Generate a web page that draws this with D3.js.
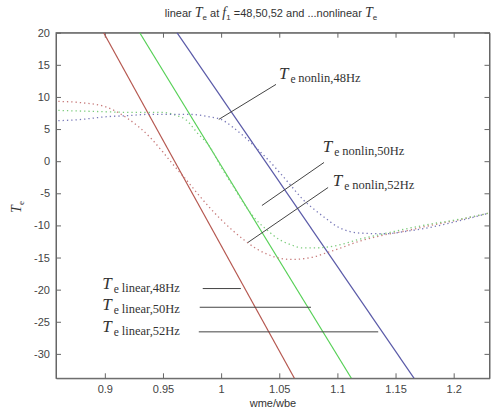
<!DOCTYPE html>
<html><head><meta charset="utf-8">
<script src="https://cdn.jsdelivr.net/npm/d3@7"></script>
<style>
body{margin:0;background:#fff;}
svg{display:block;}
.tick text{font-family:Arial,"Liberation Sans",sans-serif;font-size:11px;fill:#444;}
</style></head>
<body><svg id="c" width="491" height="412"></svg>
<script>
// ---- data ----
const xTicks = [0.9, 0.95, 1, 1.05, 1.1, 1.15, 1.2];
const yTicks = [-30, -25, -20, -15, -10, -5, 0, 5, 10, 15, 20];
const xTickLabels = ["0.9", "0.95", "1", "1.05", "1.1", "1.15", "1.2"];
const yTickLabels = ["-30", "-25", "-20", "-15", "-10", "-5", "0", "5", "10", "15", "20"];

// linear torque lines (endpoints)
const linY = [20, -33.8];
const lin48X = [0.899, 1.063];
const lin50X = [0.930, 1.112];
const lin52X = [0.962, 1.166];

// nonlinear torque curves
const nonlinX = [0.86, 0.88, 0.90, 0.92, 0.94, 0.95, 0.96, 0.97, 0.98, 0.99, 1.00, 1.01, 1.02, 1.03, 1.04, 1.05, 1.06, 1.07, 1.08, 1.09, 1.10, 1.12, 1.14, 1.16, 1.18, 1.20, 1.23];
const nonlin48 = [9.3, 9.1, 8.5, 6.6, 3.5, 1.4, -0.8, -2.9, -5.1, -7.2, -9.1, -10.8, -12.3, -13.6, -14.5, -15.1, -15.3, -15.2, -14.9, -14.3, -13.7, -12.4, -11.5, -10.8, -10.0, -9.3, -8.1];
const nonlin50 = [7.9, 7.8, 7.7, 7.6, 7.6, 7.6, 7.2, 6.4, 4.3, 2.3, -0.9, -3.8, -6.7, -9.1, -10.8, -12.2, -13.0, -13.5, -13.5, -13.4, -13.1, -12.1, -11.3, -10.5, -9.8, -9.2, -8.1];
const nonlin52 = [6.3, 6.5, 6.9, 7.1, 7.3, 7.3, 7.3, 7.3, 7.2, 6.9, 6.5, 5.3, 3.8, 2.1, 0.3, -1.7, -3.8, -5.9, -7.5, -8.9, -10.2, -11.2, -11.3, -10.9, -10.3, -9.5, -8.1];

// ---- chart ----
const svg = d3.select("#c");
const L = 56, R = 489.5, T = 32.7, B = 378.3;
const x = d3.scaleLinear().domain([0.858, 1.2308]).range([L, R]);
const y = d3.scaleLinear().domain([-33.8, 20]).range([B, T]);

svg.append("defs").append("clipPath").attr("id", "clip")
  .append("rect").attr("x", L).attr("y", T).attr("width", R - L).attr("height", B - T);

const axisCol = "#666";
// box
svg.append("rect").attr("x", L).attr("y", T).attr("width", R - L).attr("height", B - T)
  .attr("fill", "#fff").attr("stroke", axisCol).attr("stroke-width", 1);

function styleAxis(g) {
  g.select(".domain").attr("stroke", axisCol);
  g.selectAll(".tick line").attr("stroke", axisCol);
}
const gx = svg.append("g").attr("transform", `translate(0,${B})`)
  .call(d3.axisBottom(x).tickValues(xTicks).tickFormat((d, i) => xTickLabels[i]).tickSizeInner(-5).tickSizeOuter(0).tickPadding(7));
styleAxis(gx);
const gxt = svg.append("g").attr("transform", `translate(0,${T})`)
  .call(d3.axisTop(x).tickValues(xTicks).tickFormat("").tickSizeInner(-5).tickSizeOuter(0));
styleAxis(gxt);
const gy = svg.append("g").attr("transform", `translate(${L},0)`)
  .call(d3.axisLeft(y).tickValues(yTicks).tickFormat((d, i) => yTickLabels[i]).tickSizeInner(-5).tickSizeOuter(0).tickPadding(6));
styleAxis(gy);
const gyr = svg.append("g").attr("transform", `translate(${R},0)`)
  .call(d3.axisRight(y).tickValues(yTicks).tickFormat("").tickSizeInner(-5).tickSizeOuter(0));
styleAxis(gyr);

const plot = svg.append("g").attr("clip-path", "url(#clip)");
const line = d3.line().x(d => x(d[0])).y(d => y(d[1]));
const curve = d3.line().curve(d3.curveMonotoneX).x(d => x(d[0])).y(d => y(d[1]));

const cRed = "#b5574f", cGreen = "#55d055", cBlue = "#5a5aa8";
[[lin48X, cRed], [lin50X, cGreen], [lin52X, cBlue]].forEach(([xs, c]) => {
  plot.append("path").datum(xs.map((v, i) => [v, linY[i]]))
    .attr("d", line).attr("fill", "none").attr("stroke", c).attr("stroke-width", 1.2);
});
[[nonlin48, "#c77a7a"], [nonlin50, "#7ccc7c"], [nonlin52, "#7878b8"]].forEach(([ys, c]) => {
  plot.append("path").datum(nonlinX.map((v, i) => [v, ys[i]]))
    .attr("d", curve).attr("fill", "none").attr("stroke", c).attr("stroke-width", 1.3)
    .attr("stroke-dasharray", "1.3,3");
});

// ---- annotations ----
const annCol = "#444";
function leader(x1, y1, x2, y2) {
  svg.append("line").attr("x1", x(x1)).attr("y1", y(y1)).attr("x2", x(x2)).attr("y2", y(y2))
    .attr("stroke", annCol).attr("stroke-width", 1);
}
function label(xv, yv, sub) {
  const t = svg.append("text").attr("x", x(xv)).attr("y", y(yv))
    .attr("font-family", "'Liberation Serif','Times New Roman',serif").attr("fill", "#333");
  t.append("tspan").attr("font-style", "italic").attr("font-size", 17).text("T");
  t.append("tspan").attr("font-size", 11.5).attr("dx", 2).attr("dy", 4).text("e ");
  t.append("tspan").attr("font-size", 12.5).attr("dy", -1).text(sub);
}
label(1.0497, 12.73, "nonlin,48Hz");
leader(1.0472, 11.95, 0.998, 6.5);
label(1.0874, 1.36, "nonlin,50Hz");
leader(1.0885, -0.2, 1.0351, -6.9);
label(1.096, -3.89, "nonlin,52Hz");
leader(1.092, -4.1, 1.023, -12.66);

label(0.8978, -19.83, "linear,48Hz");
leader(0.9842, -19.83, 1.017, -19.83);
label(0.8978, -23.1, "linear,50Hz");
leader(0.9816, -22.74, 1.0773, -22.74);
label(0.8978, -26.64, "linear,52Hz");
leader(0.9808, -26.57, 1.1351, -26.57);

// title
const title = svg.append("text").attr("x", 271).attr("y", 17).attr("text-anchor", "middle")
  .attr("font-family", "Arial,'Liberation Sans',sans-serif").attr("font-size", 11).attr("fill", "#333");
title.append("tspan").text("linear ");
title.append("tspan").attr("font-family", "'Liberation Serif',serif").attr("font-style", "italic").attr("font-size", 14).text("T");
title.append("tspan").attr("font-size", 8).attr("dy", 3).text("e");
title.append("tspan").attr("dy", -3).text(" at ");
title.append("tspan").attr("font-family", "'Liberation Serif',serif").attr("font-style", "italic").attr("font-size", 14).text("f");
title.append("tspan").attr("font-size", 8).attr("dy", 3).text("1");
title.append("tspan").attr("dy", -3).text(" =48,50,52 and ...nonlinear ");
title.append("tspan").attr("font-family", "'Liberation Serif',serif").attr("font-style", "italic").attr("font-size", 14).text("T");
title.append("tspan").attr("font-size", 8).attr("dy", 3).text("e");

// axis labels
svg.append("text").attr("x", 273).attr("y", 407).attr("text-anchor", "middle")
  .attr("font-family", "Arial,'Liberation Sans',sans-serif").attr("font-size", 11).attr("fill", "#333")
  .text("wme/wbe");
const yl = svg.append("text").attr("transform", "translate(21,207) rotate(-90)").attr("text-anchor", "middle")
  .attr("font-family", "'Liberation Serif',serif").attr("fill", "#333");
yl.append("tspan").attr("font-style", "italic").attr("font-size", 14).text("T");
yl.append("tspan").attr("font-size", 9).attr("dy", 3).text("e");
</script></body></html>
